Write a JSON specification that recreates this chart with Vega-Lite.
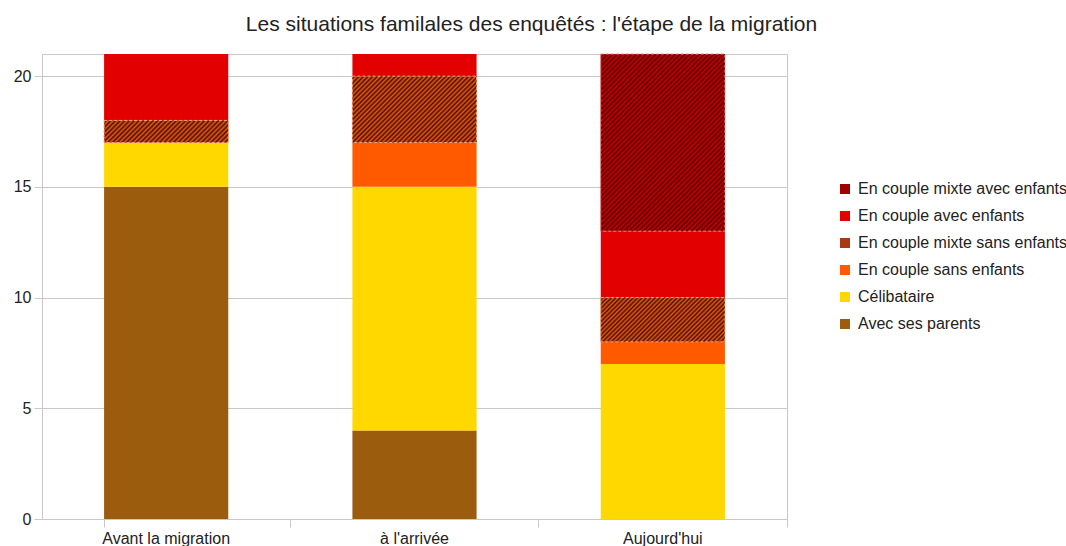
{
  "$schema": "https://vega.github.io/schema/vega-lite/v6.json",
  "width": 745,
  "height": 465,
  "autosize": "none",
  "padding": {"left": 42, "top": 54, "right": 279, "bottom": 27},
  "background": "white",
  "config": {
    "font": "Liberation Sans",
    "view": {"stroke": "#c8c8c8", "strokeWidth": 1}
  },
  "title": {
    "text": "Les situations familales des enquêtés : l'étape de la migration",
    "fontSize": 21,
    "fontWeight": "normal",
    "color": "#222",
    "anchor": "middle",
    "dx": 117,
    "offset": 2,
    "baseline": "alphabetic"
  },
  "data": {
    "values": [
      {"etape": "Avant la migration", "situation": "Avec ses parents", "ordre": 1, "n": 15},
      {"etape": "Avant la migration", "situation": "Célibataire", "ordre": 2, "n": 2},
      {"etape": "Avant la migration", "situation": "En couple mixte sans enfants", "ordre": 4, "n": 1},
      {"etape": "Avant la migration", "situation": "En couple avec enfants", "ordre": 5, "n": 3},
      {"etape": "à l'arrivée", "situation": "Avec ses parents", "ordre": 1, "n": 4},
      {"etape": "à l'arrivée", "situation": "Célibataire", "ordre": 2, "n": 11},
      {"etape": "à l'arrivée", "situation": "En couple sans enfants", "ordre": 3, "n": 2},
      {"etape": "à l'arrivée", "situation": "En couple mixte sans enfants", "ordre": 4, "n": 3},
      {"etape": "à l'arrivée", "situation": "En couple avec enfants", "ordre": 5, "n": 1},
      {"etape": "Aujourd'hui", "situation": "Célibataire", "ordre": 2, "n": 7},
      {"etape": "Aujourd'hui", "situation": "En couple sans enfants", "ordre": 3, "n": 1},
      {"etape": "Aujourd'hui", "situation": "En couple mixte sans enfants", "ordre": 4, "n": 2},
      {"etape": "Aujourd'hui", "situation": "En couple avec enfants", "ordre": 5, "n": 3},
      {"etape": "Aujourd'hui", "situation": "En couple mixte avec enfants", "ordre": 6, "n": 8}
    ]
  },
  "transform": [
    {"stack": "n", "groupby": ["etape"], "sort": [{"field": "ordre", "order": "ascending"}], "as": ["y0", "y1"]}
  ],
  "encoding": {
    "x": {
      "field": "etape",
      "type": "nominal",
      "sort": ["Avant la migration", "à l'arrivée", "Aujourd'hui"],
      "scale": {"paddingInner": 0.5, "paddingOuter": 0.25},
      "axis": {
        "title": null,
        "labelAngle": 0,
        "labelFontSize": 16,
        "labelColor": "#222",
        "labelPadding": 3,
        "domainColor": "#c8c8c8",
        "tickColor": "#c8c8c8",
        "tickSize": 8,
        "bandPosition": 1.5,
        "tickExtra": true
      }
    },
    "y": {
      "field": "y1",
      "type": "quantitative",
      "scale": {"domain": [0, 21], "nice": false},
      "axis": {
        "title": null,
        "values": [0, 5, 10, 15, 20],
        "domain": false,
        "grid": true,
        "gridColor": "#c8c8c8",
        "tickColor": "#c8c8c8",
        "tickSize": 8,
        "labelFontSize": 16,
        "labelColor": "#222",
        "labelPadding": 3
      }
    },
    "y2": {"field": "y0"}
  },
  "layer": [
    {
      "mark": {"type": "bar"},
      "encoding": {
        "color": {
          "field": "situation",
          "type": "nominal",
          "scale": {
            "domain": ["En couple mixte avec enfants", "En couple avec enfants", "En couple mixte sans enfants", "En couple sans enfants", "Célibataire", "Avec ses parents"],
            "range": ["#a00000", "#e20000", "#a83a10", "#ff5a00", "#ffd800", "#9b5c0e"]
          },
          "legend": {
            "title": null,
            "orient": "none",
            "legendX": 795,
            "legendY": 127,
            "symbolType": "square",
            "symbolSize": 100,
            "symbolStrokeWidth": 0,
            "labelFontSize": 16,
            "labelColor": "#222",
            "labelOffset": 5,
            "labelLimit": 400,
            "rowPadding": 11,
            "encode": {
              "symbols": {
                "enter": {
                  "fill": [
                    {"test": "datum.value === 'En couple mixte avec enfants'", "value": {"gradient": "linear", "x1": 0, "y1": 0, "x2": 1, "y2": 1, "stops": [{"offset": 0, "color": "#c00"}, {"offset": 0.17, "color": "#500"}, {"offset": 0.33, "color": "#c00"}, {"offset": 0.5, "color": "#500"}, {"offset": 0.67, "color": "#c00"}, {"offset": 0.83, "color": "#500"}, {"offset": 1, "color": "#c00"}]}},
                    {"test": "datum.value === 'En couple mixte sans enfants'", "value": {"gradient": "linear", "x1": 0, "y1": 0, "x2": 1, "y2": 1, "stops": [{"offset": 0, "color": "#e51"}, {"offset": 0.17, "color": "#410"}, {"offset": 0.33, "color": "#e51"}, {"offset": 0.5, "color": "#410"}, {"offset": 0.67, "color": "#e51"}, {"offset": 0.83, "color": "#410"}, {"offset": 1, "color": "#e51"}]}},
                    {"scale": "color", "field": "value"}
                  ]
                },
                "update": {
                  "fill": [
                    {"test": "datum.value === 'En couple mixte avec enfants'", "value": {"gradient": "linear", "x1": 0, "y1": 0, "x2": 1, "y2": 1, "stops": [{"offset": 0, "color": "#c00"}, {"offset": 0.17, "color": "#500"}, {"offset": 0.33, "color": "#c00"}, {"offset": 0.5, "color": "#500"}, {"offset": 0.67, "color": "#c00"}, {"offset": 0.83, "color": "#500"}, {"offset": 1, "color": "#c00"}]}},
                    {"test": "datum.value === 'En couple mixte sans enfants'", "value": {"gradient": "linear", "x1": 0, "y1": 0, "x2": 1, "y2": 1, "stops": [{"offset": 0, "color": "#e51"}, {"offset": 0.17, "color": "#410"}, {"offset": 0.33, "color": "#e51"}, {"offset": 0.5, "color": "#410"}, {"offset": 0.67, "color": "#e51"}, {"offset": 0.83, "color": "#410"}, {"offset": 1, "color": "#e51"}]}},
                    {"scale": "color", "field": "value"}
                  ]
                }
              }
            }
          }
        }
      }
    },
    {
      "transform": [{"filter": {"and": [{"field": "situation", "equal": "En couple mixte sans enfants"}, {"field": "etape", "equal": "Avant la migration"}]}}],
      "mark": {"type": "bar", "stroke": "#f3a47e", "strokeWidth": 1, "strokeDash": [3, 2],
        "fill": {"gradient": "linear", "x1": 0, "y1": 0, "x2": 1.142, "y2": 0.203, "stops": [
          {"offset": 0, "color": "#e51"}, {"offset": 0.016, "color": "#410"}, {"offset": 0.032, "color": "#e51"}, {"offset": 0.048, "color": "#410"}, {"offset": 0.064, "color": "#e51"}, {"offset": 0.08, "color": "#410"}, {"offset": 0.096, "color": "#e51"}, {"offset": 0.112, "color": "#410"}, {"offset": 0.128, "color": "#e51"}, {"offset": 0.144, "color": "#410"}, {"offset": 0.16, "color": "#e51"}, {"offset": 0.176, "color": "#410"}, {"offset": 0.192, "color": "#e51"}, {"offset": 0.208, "color": "#410"}, {"offset": 0.224, "color": "#e51"}, {"offset": 0.24, "color": "#410"}, {"offset": 0.256, "color": "#e51"}, {"offset": 0.272, "color": "#410"}, {"offset": 0.288, "color": "#e51"}, {"offset": 0.304, "color": "#410"}, {"offset": 0.32, "color": "#e51"}, {"offset": 0.336, "color": "#410"}, {"offset": 0.352, "color": "#e51"}, {"offset": 0.368, "color": "#410"}, {"offset": 0.384, "color": "#e51"}, {"offset": 0.4, "color": "#410"}, {"offset": 0.416, "color": "#e51"}, {"offset": 0.432, "color": "#410"}, {"offset": 0.448, "color": "#e51"}, {"offset": 0.464, "color": "#410"}, {"offset": 0.48, "color": "#e51"}, {"offset": 0.496, "color": "#410"}, {"offset": 0.512, "color": "#e51"}, {"offset": 0.528, "color": "#410"}, {"offset": 0.544, "color": "#e51"}, {"offset": 0.56, "color": "#410"}, {"offset": 0.576, "color": "#e51"}, {"offset": 0.592, "color": "#410"}, {"offset": 0.608, "color": "#e51"}, {"offset": 0.624, "color": "#410"}, {"offset": 0.64, "color": "#e51"}, {"offset": 0.656, "color": "#410"}, {"offset": 0.672, "color": "#e51"}, {"offset": 0.688, "color": "#410"}, {"offset": 0.704, "color": "#e51"}, {"offset": 0.72, "color": "#410"}, {"offset": 0.736, "color": "#e51"}, {"offset": 0.752, "color": "#410"}, {"offset": 0.768, "color": "#e51"}, {"offset": 0.784, "color": "#410"}, {"offset": 0.8, "color": "#e51"}, {"offset": 0.816, "color": "#410"}, {"offset": 0.832, "color": "#e51"}, {"offset": 0.848, "color": "#410"}, {"offset": 0.864, "color": "#e51"}, {"offset": 0.88, "color": "#410"}, {"offset": 0.896, "color": "#e51"}, {"offset": 0.912, "color": "#410"}, {"offset": 0.928, "color": "#e51"}, {"offset": 0.944, "color": "#410"}, {"offset": 0.96, "color": "#e51"}, {"offset": 0.976, "color": "#410"}, {"offset": 0.992, "color": "#e51"}
        ]}
      }
    },
    {
      "transform": [{"filter": {"and": [{"field": "situation", "equal": "En couple mixte sans enfants"}, {"field": "etape", "equal": "à l'arrivée"}]}}],
      "mark": {"type": "bar", "stroke": "#f3a47e", "strokeWidth": 1, "strokeDash": [3, 2],
        "fill": {"gradient": "linear", "x1": 0, "y1": 0, "x2": 1.194, "y2": 0.637, "stops": [
          {"offset": 0, "color": "#e51"}, {"offset": 0.012, "color": "#410"}, {"offset": 0.024, "color": "#e51"}, {"offset": 0.036, "color": "#410"}, {"offset": 0.048, "color": "#e51"}, {"offset": 0.06, "color": "#410"}, {"offset": 0.072, "color": "#e51"}, {"offset": 0.084, "color": "#410"}, {"offset": 0.096, "color": "#e51"}, {"offset": 0.108, "color": "#410"}, {"offset": 0.12, "color": "#e51"}, {"offset": 0.132, "color": "#410"}, {"offset": 0.144, "color": "#e51"}, {"offset": 0.156, "color": "#410"}, {"offset": 0.168, "color": "#e51"}, {"offset": 0.18, "color": "#410"}, {"offset": 0.192, "color": "#e51"}, {"offset": 0.204, "color": "#410"}, {"offset": 0.216, "color": "#e51"}, {"offset": 0.228, "color": "#410"}, {"offset": 0.24, "color": "#e51"}, {"offset": 0.252, "color": "#410"}, {"offset": 0.264, "color": "#e51"}, {"offset": 0.276, "color": "#410"}, {"offset": 0.288, "color": "#e51"}, {"offset": 0.3, "color": "#410"}, {"offset": 0.312, "color": "#e51"}, {"offset": 0.324, "color": "#410"}, {"offset": 0.336, "color": "#e51"}, {"offset": 0.348, "color": "#410"}, {"offset": 0.36, "color": "#e51"}, {"offset": 0.372, "color": "#410"}, {"offset": 0.384, "color": "#e51"}, {"offset": 0.396, "color": "#410"}, {"offset": 0.408, "color": "#e51"}, {"offset": 0.42, "color": "#410"}, {"offset": 0.432, "color": "#e51"}, {"offset": 0.444, "color": "#410"}, {"offset": 0.456, "color": "#e51"}, {"offset": 0.468, "color": "#410"}, {"offset": 0.48, "color": "#e51"}, {"offset": 0.492, "color": "#410"}, {"offset": 0.504, "color": "#e51"}, {"offset": 0.516, "color": "#410"}, {"offset": 0.528, "color": "#e51"}, {"offset": 0.54, "color": "#410"}, {"offset": 0.552, "color": "#e51"}, {"offset": 0.564, "color": "#410"}, {"offset": 0.576, "color": "#e51"}, {"offset": 0.588, "color": "#410"}, {"offset": 0.6, "color": "#e51"}, {"offset": 0.612, "color": "#410"}, {"offset": 0.624, "color": "#e51"}, {"offset": 0.636, "color": "#410"}, {"offset": 0.648, "color": "#e51"}, {"offset": 0.66, "color": "#410"}, {"offset": 0.672, "color": "#e51"}, {"offset": 0.684, "color": "#410"}, {"offset": 0.696, "color": "#e51"}, {"offset": 0.708, "color": "#410"}, {"offset": 0.72, "color": "#e51"}, {"offset": 0.732, "color": "#410"}, {"offset": 0.744, "color": "#e51"}, {"offset": 0.756, "color": "#410"}, {"offset": 0.768, "color": "#e51"}, {"offset": 0.78, "color": "#410"}, {"offset": 0.792, "color": "#e51"}, {"offset": 0.804, "color": "#410"}, {"offset": 0.816, "color": "#e51"}, {"offset": 0.828, "color": "#410"}, {"offset": 0.84, "color": "#e51"}, {"offset": 0.852, "color": "#410"}, {"offset": 0.864, "color": "#e51"}, {"offset": 0.876, "color": "#410"}, {"offset": 0.888, "color": "#e51"}, {"offset": 0.9, "color": "#410"}, {"offset": 0.912, "color": "#e51"}, {"offset": 0.924, "color": "#410"}, {"offset": 0.936, "color": "#e51"}, {"offset": 0.948, "color": "#410"}, {"offset": 0.96, "color": "#e51"}, {"offset": 0.972, "color": "#410"}, {"offset": 0.984, "color": "#e51"}, {"offset": 0.996, "color": "#410"}
        ]}
      }
    },
    {
      "transform": [{"filter": {"and": [{"field": "situation", "equal": "En couple mixte sans enfants"}, {"field": "etape", "equal": "Aujourd'hui"}]}}],
      "mark": {"type": "bar", "stroke": "#f3a47e", "strokeWidth": 1, "strokeDash": [3, 2],
        "fill": {"gradient": "linear", "x1": 0, "y1": 0, "x2": 1.204, "y2": 0.429, "stops": [
          {"offset": 0, "color": "#e51"}, {"offset": 0.013, "color": "#410"}, {"offset": 0.026, "color": "#e51"}, {"offset": 0.039, "color": "#410"}, {"offset": 0.052, "color": "#e51"}, {"offset": 0.065, "color": "#410"}, {"offset": 0.078, "color": "#e51"}, {"offset": 0.091, "color": "#410"}, {"offset": 0.104, "color": "#e51"}, {"offset": 0.117, "color": "#410"}, {"offset": 0.13, "color": "#e51"}, {"offset": 0.143, "color": "#410"}, {"offset": 0.156, "color": "#e51"}, {"offset": 0.169, "color": "#410"}, {"offset": 0.182, "color": "#e51"}, {"offset": 0.195, "color": "#410"}, {"offset": 0.208, "color": "#e51"}, {"offset": 0.221, "color": "#410"}, {"offset": 0.234, "color": "#e51"}, {"offset": 0.247, "color": "#410"}, {"offset": 0.26, "color": "#e51"}, {"offset": 0.273, "color": "#410"}, {"offset": 0.286, "color": "#e51"}, {"offset": 0.299, "color": "#410"}, {"offset": 0.312, "color": "#e51"}, {"offset": 0.325, "color": "#410"}, {"offset": 0.338, "color": "#e51"}, {"offset": 0.351, "color": "#410"}, {"offset": 0.364, "color": "#e51"}, {"offset": 0.377, "color": "#410"}, {"offset": 0.39, "color": "#e51"}, {"offset": 0.403, "color": "#410"}, {"offset": 0.416, "color": "#e51"}, {"offset": 0.429, "color": "#410"}, {"offset": 0.442, "color": "#e51"}, {"offset": 0.455, "color": "#410"}, {"offset": 0.468, "color": "#e51"}, {"offset": 0.481, "color": "#410"}, {"offset": 0.494, "color": "#e51"}, {"offset": 0.507, "color": "#410"}, {"offset": 0.52, "color": "#e51"}, {"offset": 0.533, "color": "#410"}, {"offset": 0.546, "color": "#e51"}, {"offset": 0.559, "color": "#410"}, {"offset": 0.572, "color": "#e51"}, {"offset": 0.585, "color": "#410"}, {"offset": 0.598, "color": "#e51"}, {"offset": 0.611, "color": "#410"}, {"offset": 0.624, "color": "#e51"}, {"offset": 0.637, "color": "#410"}, {"offset": 0.65, "color": "#e51"}, {"offset": 0.663, "color": "#410"}, {"offset": 0.676, "color": "#e51"}, {"offset": 0.689, "color": "#410"}, {"offset": 0.702, "color": "#e51"}, {"offset": 0.715, "color": "#410"}, {"offset": 0.728, "color": "#e51"}, {"offset": 0.741, "color": "#410"}, {"offset": 0.754, "color": "#e51"}, {"offset": 0.767, "color": "#410"}, {"offset": 0.78, "color": "#e51"}, {"offset": 0.793, "color": "#410"}, {"offset": 0.806, "color": "#e51"}, {"offset": 0.819, "color": "#410"}, {"offset": 0.832, "color": "#e51"}, {"offset": 0.845, "color": "#410"}, {"offset": 0.858, "color": "#e51"}, {"offset": 0.871, "color": "#410"}, {"offset": 0.884, "color": "#e51"}, {"offset": 0.897, "color": "#410"}, {"offset": 0.91, "color": "#e51"}, {"offset": 0.923, "color": "#410"}, {"offset": 0.936, "color": "#e51"}, {"offset": 0.949, "color": "#410"}, {"offset": 0.962, "color": "#e51"}, {"offset": 0.975, "color": "#410"}, {"offset": 0.988, "color": "#e51"}
        ]}
      }
    },
    {
      "transform": [{"filter": {"field": "situation", "equal": "En couple mixte avec enfants"}}],
      "mark": {"type": "bar", "stroke": "#f08080", "strokeWidth": 1, "strokeDash": [3, 2],
        "fill": {"gradient": "linear", "x1": 0, "y1": 0, "x2": 0.801, "y2": 1.14, "stops": [
          {"offset": 0, "color": "#c00"}, {"offset": 0.008, "color": "#500"}, {"offset": 0.016, "color": "#c00"}, {"offset": 0.024, "color": "#500"}, {"offset": 0.032, "color": "#c00"}, {"offset": 0.04, "color": "#500"}, {"offset": 0.048, "color": "#c00"}, {"offset": 0.056, "color": "#500"}, {"offset": 0.064, "color": "#c00"}, {"offset": 0.072, "color": "#500"}, {"offset": 0.08, "color": "#c00"}, {"offset": 0.088, "color": "#500"}, {"offset": 0.096, "color": "#c00"}, {"offset": 0.104, "color": "#500"}, {"offset": 0.112, "color": "#c00"}, {"offset": 0.12, "color": "#500"}, {"offset": 0.128, "color": "#c00"}, {"offset": 0.136, "color": "#500"}, {"offset": 0.144, "color": "#c00"}, {"offset": 0.152, "color": "#500"}, {"offset": 0.16, "color": "#c00"}, {"offset": 0.168, "color": "#500"}, {"offset": 0.176, "color": "#c00"}, {"offset": 0.184, "color": "#500"}, {"offset": 0.192, "color": "#c00"}, {"offset": 0.2, "color": "#500"}, {"offset": 0.208, "color": "#c00"}, {"offset": 0.216, "color": "#500"}, {"offset": 0.224, "color": "#c00"}, {"offset": 0.232, "color": "#500"}, {"offset": 0.24, "color": "#c00"}, {"offset": 0.248, "color": "#500"}, {"offset": 0.256, "color": "#c00"}, {"offset": 0.264, "color": "#500"}, {"offset": 0.272, "color": "#c00"}, {"offset": 0.28, "color": "#500"}, {"offset": 0.288, "color": "#c00"}, {"offset": 0.296, "color": "#500"}, {"offset": 0.304, "color": "#c00"}, {"offset": 0.312, "color": "#500"}, {"offset": 0.32, "color": "#c00"}, {"offset": 0.328, "color": "#500"}, {"offset": 0.336, "color": "#c00"}, {"offset": 0.344, "color": "#500"}, {"offset": 0.352, "color": "#c00"}, {"offset": 0.36, "color": "#500"}, {"offset": 0.368, "color": "#c00"}, {"offset": 0.376, "color": "#500"}, {"offset": 0.384, "color": "#c00"}, {"offset": 0.392, "color": "#500"}, {"offset": 0.4, "color": "#c00"}, {"offset": 0.408, "color": "#500"}, {"offset": 0.416, "color": "#c00"}, {"offset": 0.424, "color": "#500"}, {"offset": 0.432, "color": "#c00"}, {"offset": 0.44, "color": "#500"}, {"offset": 0.448, "color": "#c00"}, {"offset": 0.456, "color": "#500"}, {"offset": 0.464, "color": "#c00"}, {"offset": 0.472, "color": "#500"}, {"offset": 0.48, "color": "#c00"}, {"offset": 0.488, "color": "#500"}, {"offset": 0.496, "color": "#c00"}, {"offset": 0.504, "color": "#500"}, {"offset": 0.512, "color": "#c00"}, {"offset": 0.52, "color": "#500"}, {"offset": 0.528, "color": "#c00"}, {"offset": 0.536, "color": "#500"}, {"offset": 0.544, "color": "#c00"}, {"offset": 0.552, "color": "#500"}, {"offset": 0.56, "color": "#c00"}, {"offset": 0.568, "color": "#500"}, {"offset": 0.576, "color": "#c00"}, {"offset": 0.584, "color": "#500"}, {"offset": 0.592, "color": "#c00"}, {"offset": 0.6, "color": "#500"}, {"offset": 0.608, "color": "#c00"}, {"offset": 0.616, "color": "#500"}, {"offset": 0.624, "color": "#c00"}, {"offset": 0.632, "color": "#500"}, {"offset": 0.64, "color": "#c00"}, {"offset": 0.648, "color": "#500"}, {"offset": 0.656, "color": "#c00"}, {"offset": 0.664, "color": "#500"}, {"offset": 0.672, "color": "#c00"}, {"offset": 0.68, "color": "#500"}, {"offset": 0.688, "color": "#c00"}, {"offset": 0.696, "color": "#500"}, {"offset": 0.704, "color": "#c00"}, {"offset": 0.712, "color": "#500"}, {"offset": 0.72, "color": "#c00"}, {"offset": 0.728, "color": "#500"}, {"offset": 0.736, "color": "#c00"}, {"offset": 0.744, "color": "#500"}, {"offset": 0.752, "color": "#c00"}, {"offset": 0.76, "color": "#500"}, {"offset": 0.768, "color": "#c00"}, {"offset": 0.776, "color": "#500"}, {"offset": 0.784, "color": "#c00"}, {"offset": 0.792, "color": "#500"}, {"offset": 0.8, "color": "#c00"}, {"offset": 0.808, "color": "#500"}, {"offset": 0.816, "color": "#c00"}, {"offset": 0.824, "color": "#500"}, {"offset": 0.832, "color": "#c00"}, {"offset": 0.84, "color": "#500"}, {"offset": 0.848, "color": "#c00"}, {"offset": 0.856, "color": "#500"}, {"offset": 0.864, "color": "#c00"}, {"offset": 0.872, "color": "#500"}, {"offset": 0.88, "color": "#c00"}, {"offset": 0.888, "color": "#500"}, {"offset": 0.896, "color": "#c00"}, {"offset": 0.904, "color": "#500"}, {"offset": 0.912, "color": "#c00"}, {"offset": 0.92, "color": "#500"}, {"offset": 0.928, "color": "#c00"}, {"offset": 0.936, "color": "#500"}, {"offset": 0.944, "color": "#c00"}, {"offset": 0.952, "color": "#500"}, {"offset": 0.96, "color": "#c00"}, {"offset": 0.968, "color": "#500"}, {"offset": 0.976, "color": "#c00"}, {"offset": 0.984, "color": "#500"}, {"offset": 0.992, "color": "#c00"}, {"offset": 1, "color": "#500"}
        ]}
      }
    }
  ]
}
